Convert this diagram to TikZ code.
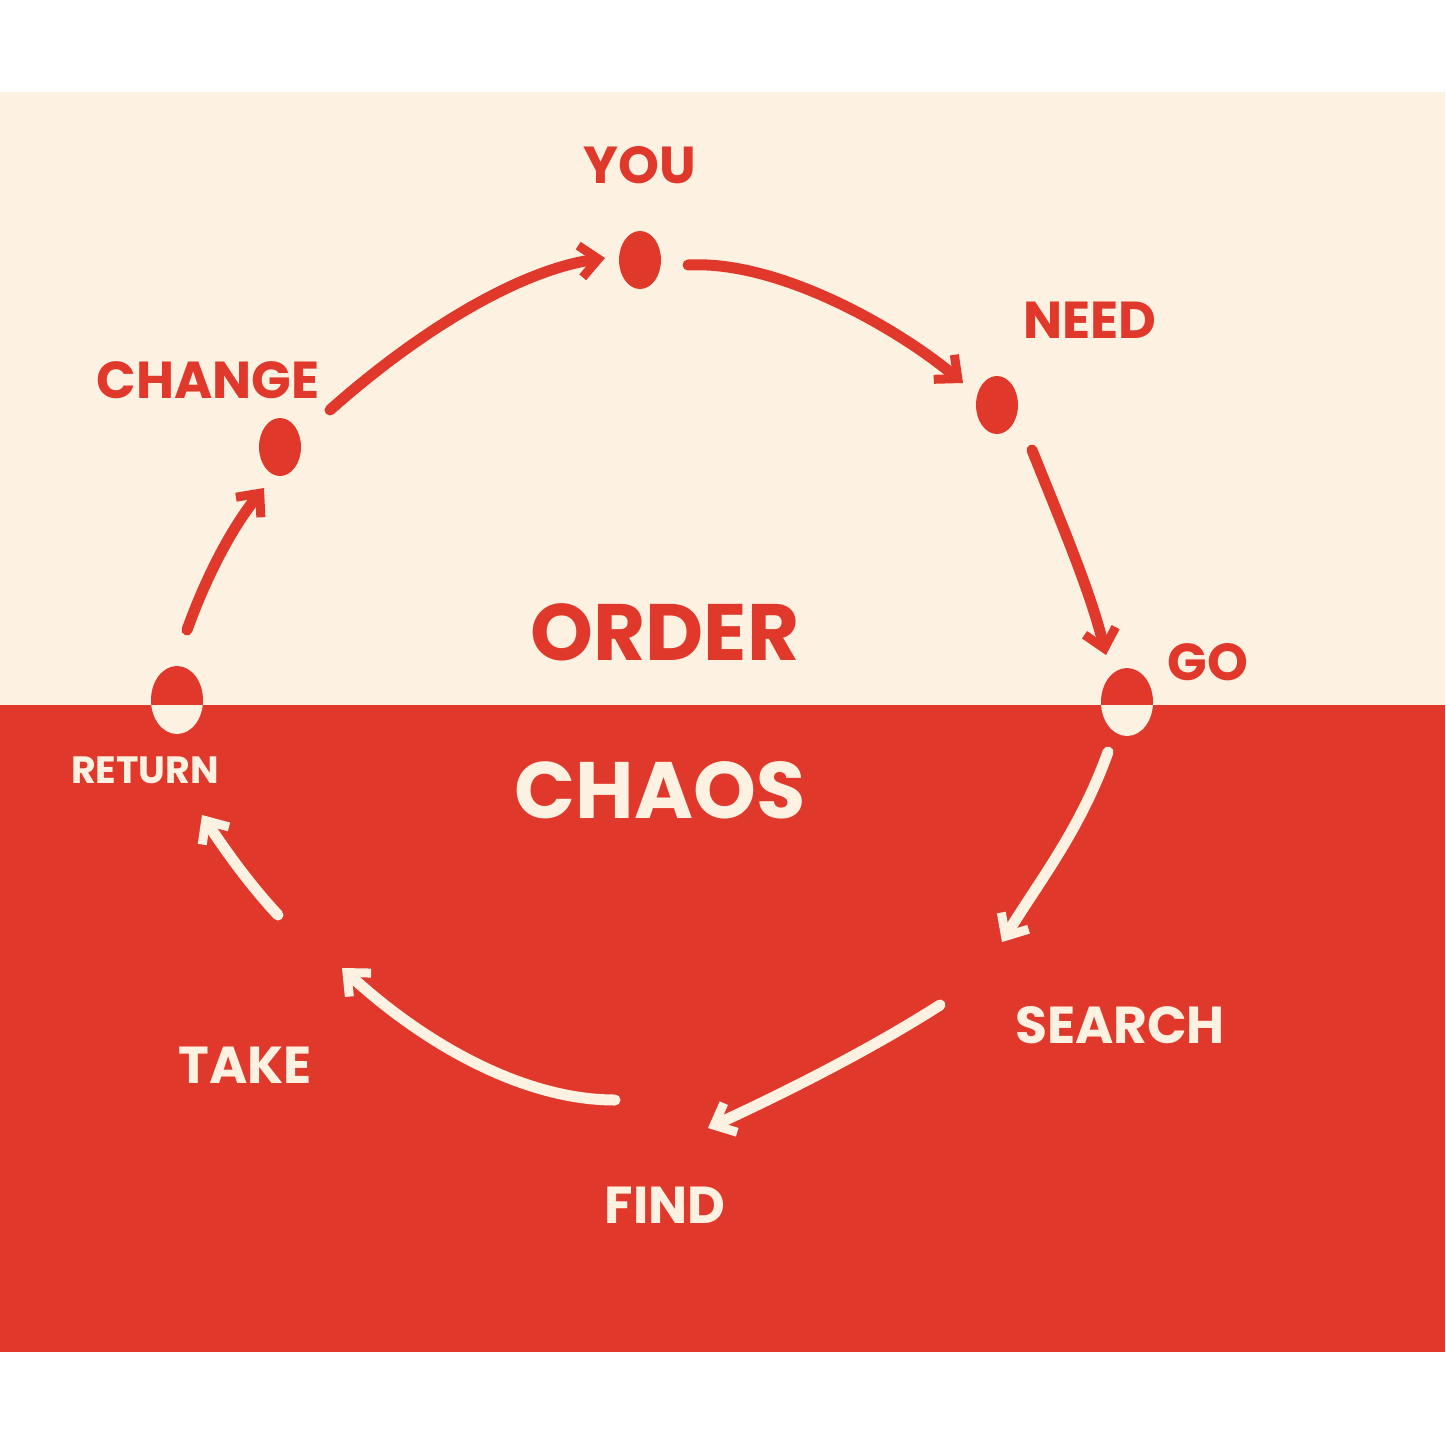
\documentclass[tikz,border=0pt]{standalone}
\usepackage{fontspec}
\setmainfont{Poppins}
\usetikzlibrary{arrows.meta,shapes.geometric}
\definecolor{rd}{HTML}{E0392B}
\definecolor{cr}{HTML}{FDF1E2}
\begin{document}
\begin{tikzpicture}[x=1pt,y=-1pt,
  lbl/.style={font=\bfseries\fontsize{52}{52}\selectfont},
  big/.style={font=\bfseries\fontsize{80}{80}\selectfont},
  arr/.style={line width=11pt,line cap=round,-{Straight Barb[length=18pt,width=32pt,line width=9pt]}},
  dotr/.style={ellipse,fill=rd,minimum width=42pt,minimum height=58pt,inner sep=0pt},
]
\useasboundingbox (0,0) rectangle (1445,1445);
\fill[white] (0,0) rectangle (1445,1445);
\fill[cr] (0,92) rectangle (1445,705);
\fill[rd] (0,705) rectangle (1445,1352);
% dots
\node[dotr] (you) at (640,260) {};
\node[dotr] (need) at (997,405) {};
\node[dotr] (chg) at (280,447) {};
\coordinate (go) at (1127,702);
\coordinate (ret) at (177,700);
\foreach \p in {go,ret}{
  \begin{scope}
    \clip (0,0) rectangle (1445,705);
    \fill[rd] (\p) ellipse (26 and 34);
  \end{scope}
  \begin{scope}
    \clip (0,705) rectangle (1445,1445);
    \fill[cr] (\p) ellipse (26 and 34);
  \end{scope}
}
% labels
\node[lbl,text=rd] (lyou) at (640,165) {YOU};
\node[lbl,text=rd] (lneed) at (1090,320) {NEED};
\node[lbl,text=rd] (lgo) at (1208,662) {GO};
\node[lbl,text=rd] (lchg) at (208,380) {CHANGE};
\node[big,text=rd] (order) at (665,632) {ORDER};
\node[big,text=cr] (chaos) at (660,790) {CHAOS};
\node[font=\bfseries\fontsize{38}{38}\selectfont,text=cr] (lret) at (145,770) {RETURN};
\node[lbl,text=cr] (lsearch) at (1120,1025) {SEARCH};
\node[lbl,text=cr] (lfind) at (665,1205) {FIND};
\node[lbl,text=cr] (ltake) at (245,1065) {TAKE};
% arrows
\draw[arr,rd] (330,410) .. controls (420,330) and (520,270) .. (605,258);
\draw[arr,rd] (688,265) .. controls (780,260) and (900,330) .. (963,383);
\draw[arr,rd] (1032,450) .. controls (1060,520) and (1090,590) .. (1106,655);
\draw[arr,rd] (187,630) .. controls (205,580) and (230,530) .. (264,488);
\draw[arr,cr] (1108,752) .. controls (1080,830) and (1040,880) .. (1002,942);
\draw[arr,cr] (940,1005) .. controls (870,1050) and (780,1095) .. (708,1128);
\draw[arr,cr] (615,1100) .. controls (520,1100) and (420,1040) .. (342,968);
\draw[arr,cr] (278,915) .. controls (250,885) and (225,850) .. (202,815);
\end{tikzpicture}
\end{document}
